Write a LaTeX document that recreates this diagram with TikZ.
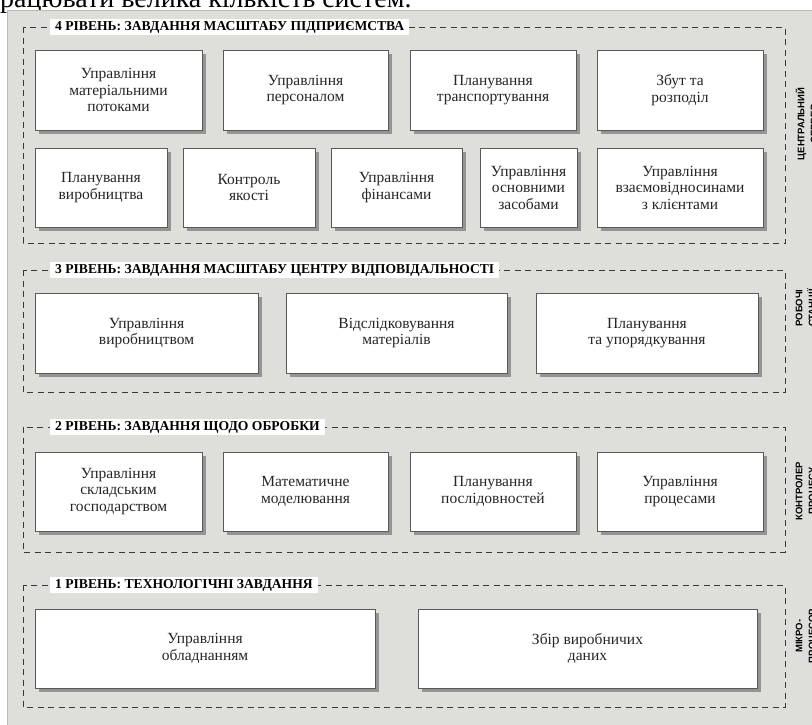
\documentclass[tikz,border=0pt]{standalone}
\usepackage{fontspec}
\setmainfont{Liberation Serif}
\newfontfamily\sidefont{Liberation Sans}
\usetikzlibrary{positioning,shadows,backgrounds}
\definecolor{panelgray}{RGB}{222,222,219}
\tikzset{
  pan/.style ={fill=panelgray, draw=black!28, line width=0.8pt},
  lvl/.style ={draw=black!78, line width=0.9pt, dash pattern=on 6pt off 4.5pt},
  box/.style ={rectangle, draw=black!65, fill=white, line width=0.8pt, align=center, text=black!85,
               font=\fontsize{15.5}{16.5}\selectfont, inner sep=2pt,
               drop shadow={shadow xshift=4pt, shadow yshift=-4pt, fill=black!42, opacity=1}},
  sz/.style 2 args={minimum width=#1pt, minimum height=#2pt},
  hdr/.style ={anchor=west, fill=white, font=\fontsize{13.6}{13.6}\selectfont\bfseries, inner xsep=5pt, inner ysep=2pt},
  side/.style={rotate=90, align=center, font=\sidefont\fontsize{9.5}{13}\selectfont\bfseries},
}

\begin{document}
\begin{tikzpicture}[x=1pt, y=-1pt]
\clip (0,0) rectangle (812,724);
% text line of the page above the figure
\node[anchor=base west, inner sep=0pt, font=\fontsize{28}{28}\selectfont] (pg) at (0,7.5) {рацювати велика кількість систем.};
\draw[pan] (7,10) rectangle (830,740);
%% ---------- level 4 ----------
\draw[lvl] (23,27) rectangle (785,243);
\node[hdr] (h4) at (50,27) {4 РІВЕНЬ: ЗАВДАННЯ МАСШТАБУ ПІДПРИЄМСТВА};
\node[box, sz={167}{80}] (b41) at (118.5,90)  {Управління\\матеріальними\\потоками};
\node[box, sz={165}{80}] (b42) at (305.5,90)  {Управління\\персоналом};
\node[box, sz={166}{80}] (b43) at (493,90)    {Планування\\транспортування};
\node[box, sz={166}{80}] (b44) at (680,90)    {Збут та\\розподіл};
\node[box, sz={132}{79}] (b45) at (101,187.5) {Планування\\виробництва};
\node[box, sz={132}{79}] (b46) at (249,187.5) {Контроль\\якості};
\node[box, sz={131}{79}] (b47) at (396.5,187.5) {Управління\\фінансами};
\node[box, sz={97}{79}]  (b48) at (528.5,187.5) {Управління\\основними\\засобами};
\node[box, sz={166}{79}] (b49) at (680,187.5) {Управління\\взаємовідносинами\\з клієнтами};
\node[side] (s4) at (806.5,124) {ЦЕНТРАЛЬНИЙ\\СЕРВЕР};
%% ---------- level 3 ----------
\draw[lvl] (23,270) rectangle (785,392);
\node[hdr] (h3) at (50,270) {3 РІВЕНЬ: ЗАВДАННЯ МАСШТАБУ ЦЕНТРУ ВІДПОВІДАЛЬНОСТІ};
\node[box, sz={223}{80}] (b31) at (146.5,333) {Управління\\виробництвом};
\node[box, sz={221}{80}] (b32) at (396.5,333) {Відслідковування\\матеріалів};
\node[box, sz={222}{80}] (b33) at (647,333)   {Планування\\та упорядкування};
\node[side] (s3) at (806.5,308) {РОБОЧІ\\СТАНЦІЇ};
%% ---------- level 2 ----------
\draw[lvl] (23,427) rectangle (785,552);
\node[hdr] (h2) at (50,427) {2 РІВЕНЬ: ЗАВДАННЯ ЩОДО ОБРОБКИ};
\node[box, sz={167}{79}] (b21) at (118.5,491.5) {Управління\\складським\\господарством};
\node[box, sz={165}{79}] (b22) at (305.5,491.5) {Математичне\\моделювання};
\node[box, sz={166}{79}] (b23) at (493,491.5)   {Планування\\послідовностей};
\node[box, sz={166}{79}] (b24) at (680,491.5)   {Управління\\процесами};
\node[side] (s2) at (806.5,491) {КОНТРОЛЕР\\ПРОЦЕСУ};
%% ---------- level 1 ----------
\draw[lvl] (23,585) rectangle (785,707);
\node[hdr] (h1) at (50,585) {1 РІВЕНЬ: ТЕХНОЛОГІЧНІ ЗАВДАННЯ};
\node[box, sz={340}{79}] (b11) at (205,648.5)   {Управління\\обладнанням};
\node[box, sz={339}{79}] (b12) at (587.5,648.5) {Збір виробничих\\даних};
\node[side] (s1) at (806.5,636) {МІКРО-\\ПРОЦЕСОР};
\end{tikzpicture}
\end{document}
